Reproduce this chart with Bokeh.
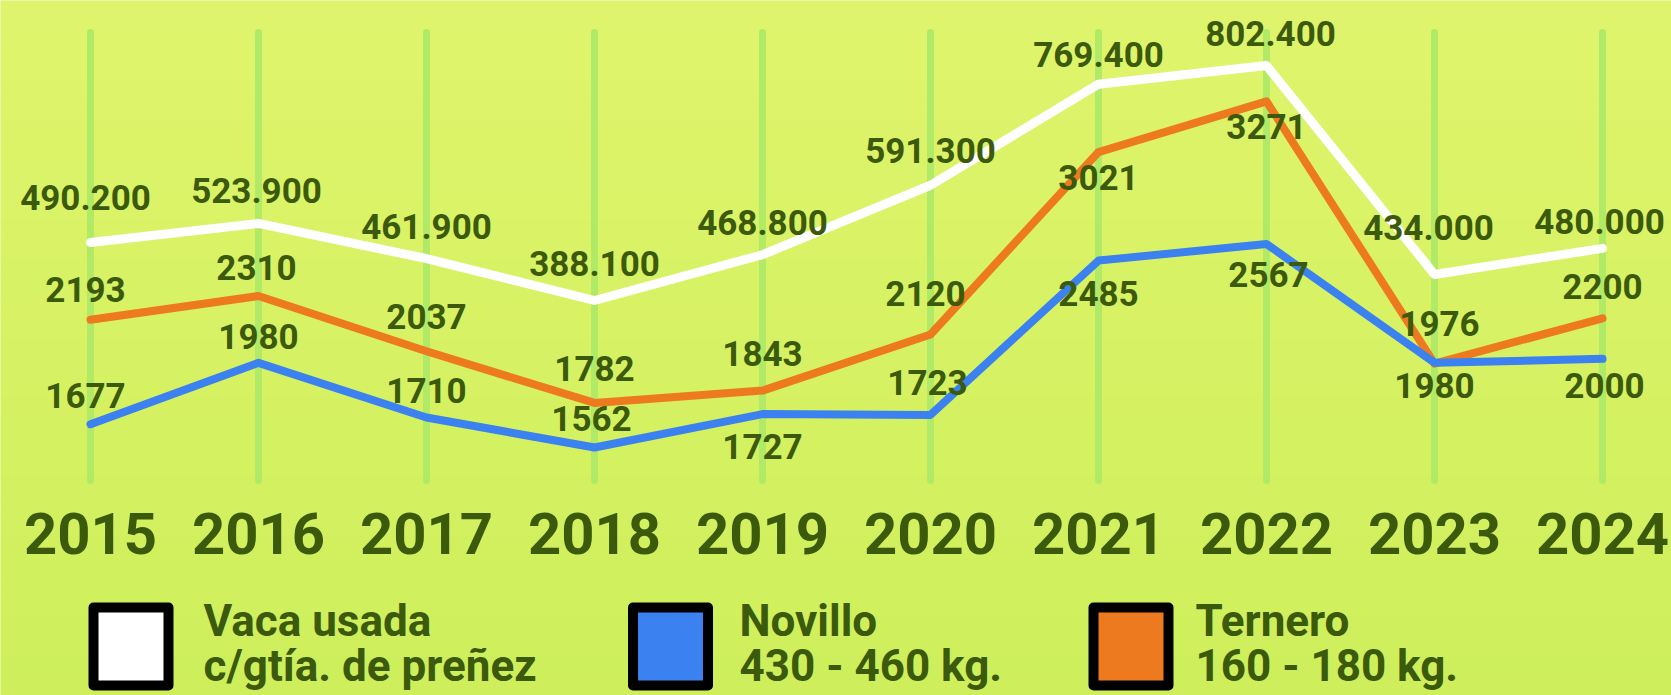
from bokeh.plotting import figure
from bokeh.models import Range1d, ColumnDataSource
from bokeh.core.properties import value
from bokeh.embed import file_html
from bokeh.resources import INLINE

# ---------------- data ----------------
years = [2015, 2016, 2017, 2018, 2019, 2020, 2021, 2022, 2023, 2024]
year_labels = [str(y) for y in years]
vaca = [490200, 523900, 461900, 388100, 468800, 591300, 769400, 802400, 434000, 480000]
ternero = [2193, 2310, 2037, 1782, 1843, 2120, 3021, 3271, 1976, 2200]
novillo = [1677, 1980, 1710, 1562, 1727, 1723, 2485, 2567, 1980, 2000]

legend_names = ["Vaca usada", "Novillo", "Ternero"]
legend_subs = ["c/gtía. de preñez", "430 - 460 kg.", "160 - 180 kg."]

# ---------------- style ----------------
BG_TOP = (0xDF, 0xF4, 0x6C)
BG_BOT = (0xCE, 0xEF, 0x5B)
TXT = "#3b5a0c"
GRID = "#b1ea67"
C_WHITE = "#ffffff"
C_ORANGE = "#ee7a1f"
C_BLUE = "#3b82f0"
FONT = value("Roboto")

# label offsets (screen px) per series
white_dx = [-5, -2, 0, 0, 0, 0, 0, 4, -6, -3]
white_dy = [-45, -33, -32, -37, -32, -35, -30, -32, -47, -27]
orange_dx = [-5, -2, 0, 0, 0, -5, 0, 0, 5, 0]
orange_dy = [-30, -29, -35, -34, -37, -41, 25, 25, -40, -32]
blue_dx = [-5, 0, 0, -3, 0, -3, 0, 2, 0, 2]
blue_dy = [-29, -26, -27, -29, 32, -32, 33, 31, 23, 27]


def fmt_thousands(v):
    return f"{v:,}".replace(",", ".")


p = figure(width=1671, height=695,
           x_range=Range1d(2014.4643, 2024.4107),
           y_range=Range1d(337.3, 3769.4),
           x_axis_location=None, y_axis_location=None,
           output_backend="svg", toolbar_location=None, min_border=0)
p.extra_y_ranges = {"vaca": Range1d(-308300, 917000), "px": Range1d(695, 0)}
p.extra_x_ranges = {"pxx": Range1d(0, 1671)}
p.grid.visible = False
p.outline_line_color = None
p.background_fill_color = "#%02x%02x%02x" % BG_TOP
p.border_fill_color = "#%02x%02x%02x" % BG_TOP

# soft vertical background gradient (decoration)
n_bands = 35
band_h = 695 / n_bands
tops, bots, cols = [], [], []
for i in range(n_bands):
    t = i / (n_bands - 1)
    c = tuple(round(a + (b - a) * t) for a, b in zip(BG_TOP, BG_BOT))
    tops.append(i * band_h)
    bots.append((i + 1) * band_h + 1)
    cols.append("#%02x%02x%02x" % c)
p.quad(left=[0] * n_bands, right=[1671] * n_bands, top=tops, bottom=bots,
       x_range_name="pxx", y_range_name="px", fill_color=cols, line_color=None)

# vertical year guides
p.segment(x0=years, y0=[32] * len(years), x1=years, y1=[480] * len(years),
          y_range_name="px", line_color=GRID, line_width=7, line_cap="round")

# series lines
p.line(years, vaca, y_range_name="vaca", line_color=C_WHITE, line_width=9,
       line_join="round", line_cap="round")
p.line(years, ternero, line_color=C_ORANGE, line_width=8,
       line_join="round", line_cap="round")
p.line(years, novillo, line_color=C_BLUE, line_width=8,
       line_join="round", line_cap="round")

# value labels
src_w = ColumnDataSource(dict(x=years, y=vaca, t=[fmt_thousands(v) for v in vaca],
                              dx=white_dx, dy=white_dy))
src_o = ColumnDataSource(dict(x=years, y=ternero, t=[str(v) for v in ternero],
                              dx=orange_dx, dy=orange_dy))
src_b = ColumnDataSource(dict(x=years, y=novillo, t=[str(v) for v in novillo],
                              dx=blue_dx, dy=blue_dy))
for src, rn in ((src_w, "vaca"), (src_o, "default"), (src_b, "default")):
    p.text(x="x", y="y", text="t", x_offset="dx", y_offset="dy", source=src,
           y_range_name=rn, text_font=FONT, text_font_style="bold",
           text_font_size="35px", text_color=TXT, text_align="center",
           text_baseline="alphabetic")

# year labels
p.text(x=years, y=[533] * len(years), text=year_labels, y_range_name="px",
       text_font=FONT, text_font_style="bold", text_font_size="58px",
       text_color=TXT, text_align="center", text_baseline="alphabetic")

# legend
box_x = [130.5, 670, 1130.5]
text_x = [203, 739, 1195]
p.rect(x=box_x, y=[646] * 3, width=75, height=78, x_range_name="pxx",
       y_range_name="px", fill_color=[C_WHITE, C_BLUE, C_ORANGE],
       line_color="black", line_width=10, line_join="round")
p.text(x=text_x, y=[620] * 3, text=legend_names, x_range_name="pxx",
       y_range_name="px", text_font=FONT, text_font_style="bold",
       text_font_size="44px", text_color=TXT, text_align="left",
       text_baseline="alphabetic")
p.text(x=text_x, y=[665] * 3, text=legend_subs, x_range_name="pxx",
       y_range_name="px", text_font=FONT, text_font_style="bold",
       text_font_size="44px", text_color=TXT, text_align="left",
       text_baseline="alphabetic")

open("out.html", "w").write(file_html(p, INLINE))
